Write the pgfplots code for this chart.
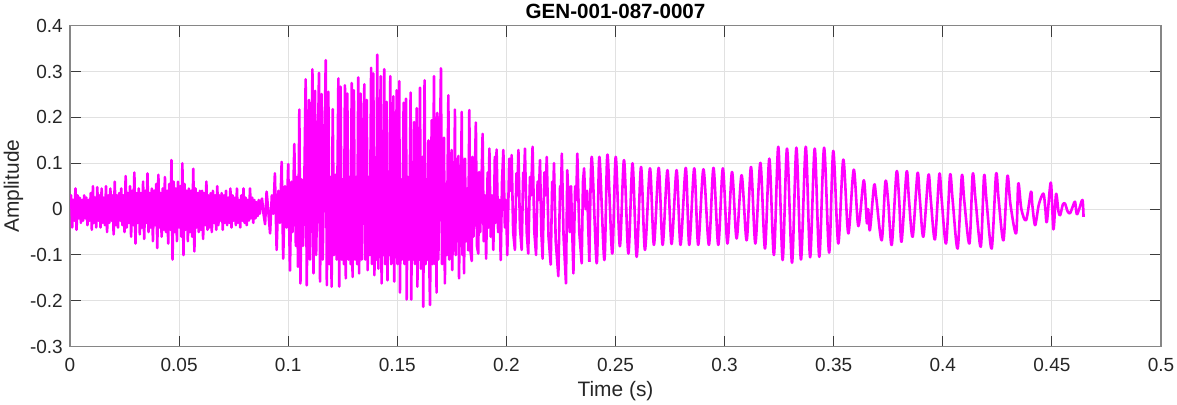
\documentclass[border=0pt]{standalone}
\usepackage{pgfplots}
\pgfplotsset{compat=1.18}
\usepackage{fontspec}
\setmainfont{Liberation Sans}
\definecolor{wave}{RGB}{255,0,255}
\definecolor{axgray}{RGB}{134,134,134}
\definecolor{tkgray}{RGB}{60,60,60}
\definecolor{txtgray}{RGB}{38,38,38}
\definecolor{grd}{RGB}{225,225,225}
\begin{document}
\begin{tikzpicture}
\begin{axis}[
  scale only axis, width=1091pt, height=321pt,
  xmin=0, xmax=0.5, ymin=-0.3, ymax=0.4,
  xtick={0,0.05,0.1,0.15,0.2,0.25,0.3,0.35,0.4,0.45,0.5},
  xticklabels={0,0.05,0.1,0.15,0.2,0.25,0.3,0.35,0.4,0.45,0.5},
  ytick={-0.3,-0.2,-0.1,0,0.1,0.2,0.3,0.4},
  yticklabels={-0.3,-0.2,-0.1,0,0.1,0.2,0.3,0.4},
  tick align=inside, tick pos=both,
  major tick length=10.9pt,
  major tick style={color=tkgray, line width=1pt},
  axis line style={color=axgray, line width=1.2pt},
  grid=major, grid style={color=grd, line width=1pt},
  xticklabel style={font=\fontsize{19}{19}\selectfont, color=txtgray, inner sep=0pt, anchor=north},
  yticklabel style={font=\fontsize{19}{19}\selectfont, color=txtgray, inner sep=0pt, anchor=east},
  xticklabel shift=11pt, yticklabel shift=7pt,
  xlabel={Time (s)}, ylabel={Amplitude},
  xlabel style={font=\fontsize{20.9}{21}\selectfont, color=txtgray, inner sep=0pt, anchor=base, at={(axis description cs:0.5,-0.155)}},
  ylabel style={font=\fontsize{20.9}{21}\selectfont, color=txtgray, inner sep=0pt, anchor=south, at={(axis description cs:-0.04262,0.5)}},
  title={GEN-001-087-0007},
  title style={font=\fontsize{20.6}{21}\selectfont\bfseries, color=black, inner sep=0pt, anchor=base, at={(axis description cs:0.5,1.005)}},
]
\addplot[wave, line width=2.6pt, line join=round] table {
0.0000 0.000
0.0005 0.030
0.0010 -0.040
0.0015 0.020
0.0020 -0.025
0.0025 0.045
0.0030 -0.045
0.0035 0.030
0.0040 -0.020
0.0045 0.025
0.0050 -0.030
0.0055 0.020
0.0060 -0.025
0.0065 0.030
0.0070 -0.020
0.0075 0.025
0.0080 -0.035
0.0085 0.020
0.0090 -0.025
0.0095 0.035
0.0100 -0.045
0.0105 0.050
0.0110 -0.030
0.0115 0.025
0.0120 -0.040
0.0125 0.048
0.0130 -0.025
0.0135 0.030
0.0140 -0.040
0.0145 0.045
0.0150 -0.030
0.0155 0.025
0.0160 -0.035
0.0165 0.050
0.0170 -0.050
0.0175 0.030
0.0180 -0.030
0.0185 0.045
0.0190 -0.025
0.0195 0.030
0.0200 -0.055
0.0205 0.060
0.0210 -0.035
0.0215 0.030
0.0220 -0.040
0.0225 0.035
0.0230 -0.025
0.0235 0.045
0.0240 -0.035
0.0245 0.030
0.0250 -0.050
0.0255 0.072
0.0260 -0.040
0.0265 0.035
0.0270 -0.030
0.0275 0.050
0.0280 -0.060
0.0285 0.040
0.0290 -0.035
0.0295 0.080
0.0300 -0.075
0.0305 0.035
0.0310 -0.030
0.0315 0.045
0.0320 -0.055
0.0325 0.035
0.0330 -0.040
0.0335 0.060
0.0340 -0.065
0.0345 0.040
0.0350 -0.030
0.0355 0.078
0.0360 -0.050
0.0365 0.035
0.0370 -0.040
0.0375 0.045
0.0380 -0.070
0.0385 0.040
0.0390 -0.035
0.0395 0.055
0.0400 -0.085
0.0405 0.075
0.0410 -0.040
0.0415 0.035
0.0420 -0.060
0.0425 0.045
0.0430 -0.045
0.0435 0.070
0.0440 -0.050
0.0445 0.040
0.0450 -0.075
0.0455 0.055
0.0460 -0.045
0.0465 0.107
0.0470 -0.110
0.0475 0.060
0.0480 -0.050
0.0485 0.045
0.0490 -0.070
0.0495 0.060
0.0500 -0.040
0.0505 0.050
0.0510 -0.060
0.0515 0.100
0.0520 -0.100
0.0525 0.055
0.0530 -0.045
0.0535 0.040
0.0540 -0.070
0.0545 0.045
0.0550 -0.050
0.0555 0.040
0.0560 -0.060
0.0565 0.088
0.0570 -0.092
0.0575 0.045
0.0580 -0.040
0.0585 0.035
0.0590 -0.050
0.0595 0.040
0.0600 -0.045
0.0605 0.040
0.0610 -0.065
0.0615 0.035
0.0620 -0.035
0.0625 0.060
0.0630 -0.045
0.0635 0.030
0.0640 -0.040
0.0645 0.035
0.0650 -0.050
0.0655 0.040
0.0660 -0.030
0.0665 0.030
0.0670 -0.045
0.0675 0.050
0.0680 -0.035
0.0685 0.030
0.0690 -0.025
0.0695 0.035
0.0700 -0.045
0.0705 0.030
0.0710 -0.030
0.0715 0.040
0.0720 -0.035
0.0725 0.025
0.0730 -0.030
0.0735 0.045
0.0740 -0.040
0.0745 0.030
0.0750 -0.025
0.0755 0.025
0.0760 -0.035
0.0765 0.045
0.0770 -0.030
0.0775 0.020
0.0780 -0.040
0.0785 0.030
0.0790 -0.025
0.0795 0.045
0.0800 -0.030
0.0805 0.025
0.0810 -0.035
0.0815 0.020
0.0820 -0.025
0.0825 0.045
0.0830 -0.020
0.0835 0.025
0.0840 -0.030
0.0845 0.020
0.0850 -0.020
0.0855 0.015
0.0860 -0.015
0.0865 0.020
0.0870 -0.010
0.0875 0.015
0.0880 0.023
0.0887 -0.010
0.0894 -0.033
0.0901 0.038
0.0908 0.000
0.0917 -0.053
0.0925 0.030
0.0932 -0.010
0.0939 0.078
0.0947 -0.089
0.0955 0.040
0.0962 -0.030
0.0970 0.103
0.0977 -0.108
0.0985 0.050
0.0992 -0.040
0.1000 0.098
0.1008 -0.134
0.1015 0.060
0.1020 -0.050
0.1028 0.142
0.1035 -0.080
0.1040 0.070
0.1045 -0.126
0.1051 0.217
0.1056 -0.162
0.1062 0.065
0.1068 -0.080
0.1074 0.060
0.1080 0.283
0.1085 -0.166
0.1090 0.070
0.1095 0.238
0.1100 -0.110
0.1105 0.060
0.1111 0.305
0.1116 -0.140
0.1120 0.070
0.1123 0.258
0.1128 -0.100
0.1134 0.060
0.1141 0.297
0.1146 -0.158
0.1150 0.070
0.1153 0.251
0.1158 -0.110
0.1164 0.065
0.1172 0.325
0.1177 -0.166
0.1181 0.070
0.1184 0.256
0.1189 -0.120
0.1194 0.070
0.1199 -0.169
0.1204 0.218
0.1210 -0.100
0.1216 0.075
0.1222 -0.110
0.1230 0.285
0.1234 -0.169
0.1237 0.070
0.1240 0.267
0.1245 -0.110
0.1250 0.065
0.1255 -0.120
0.1260 0.270
0.1264 -0.151
0.1267 0.070
0.1271 0.252
0.1276 -0.110
0.1281 0.070
0.1286 -0.120
0.1291 0.275
0.1295 -0.148
0.1298 0.070
0.1301 0.259
0.1306 -0.110
0.1311 0.070
0.1316 -0.120
0.1321 0.287
0.1325 -0.140
0.1328 0.070
0.1332 0.252
0.1337 -0.110
0.1342 0.070
0.1349 0.272
0.1353 -0.110
0.1356 0.060
0.1360 0.238
0.1364 -0.133
0.1369 0.070
0.1374 -0.100
0.1380 0.308
0.1384 -0.120
0.1387 0.070
0.1390 0.296
0.1395 -0.144
0.1400 0.070
0.1404 -0.110
0.1408 0.337
0.1413 -0.130
0.1418 0.070
0.1424 0.290
0.1428 -0.162
0.1433 0.070
0.1436 -0.100
0.1440 0.305
0.1444 -0.120
0.1448 0.065
0.1451 0.234
0.1455 -0.155
0.1460 0.070
0.1464 -0.100
0.1468 0.290
0.1472 -0.120
0.1477 0.070
0.1482 0.246
0.1486 -0.158
0.1490 0.065
0.1493 -0.100
0.1497 0.259
0.1501 -0.120
0.1505 0.070
0.1509 0.279
0.1512 -0.182
0.1517 0.065
0.1522 -0.110
0.1529 0.232
0.1533 -0.120
0.1536 0.065
0.1540 0.241
0.1543 -0.197
0.1548 0.070
0.1554 -0.110
0.1561 0.254
0.1564 -0.197
0.1568 0.060
0.1572 -0.110
0.1577 0.190
0.1581 -0.120
0.1585 0.065
0.1589 0.220
0.1592 -0.169
0.1597 0.065
0.1600 -0.110
0.1604 0.265
0.1608 -0.130
0.1612 0.060
0.1616 0.114
0.1619 -0.213
0.1622 0.060
0.1625 0.281
0.1630 -0.120
0.1634 0.065
0.1638 -0.110
0.1643 0.150
0.1647 -0.130
0.1650 -0.209
0.1654 0.060
0.1658 0.194
0.1662 -0.120
0.1665 0.060
0.1668 0.290
0.1673 -0.120
0.1677 0.060
0.1680 -0.182
0.1683 0.210
0.1688 -0.110
0.1693 0.060
0.1700 0.307
0.1705 -0.120
0.1709 0.055
0.1714 0.156
0.1718 -0.162
0.1722 0.055
0.1727 -0.100
0.1734 0.248
0.1738 -0.110
0.1742 0.050
0.1749 0.129
0.1752 -0.133
0.1756 0.050
0.1760 -0.090
0.1764 0.217
0.1768 -0.100
0.1772 0.045
0.1780 0.116
0.1783 -0.151
0.1787 0.050
0.1791 -0.080
0.1795 0.212
0.1799 -0.100
0.1803 0.045
0.1806 -0.140
0.1810 0.110
0.1815 -0.070
0.1820 0.045
0.1825 -0.090
0.1830 0.216
0.1835 -0.090
0.1841 -0.113
0.1844 0.114
0.1849 -0.060
0.1854 0.040
0.1860 0.189
0.1865 -0.080
0.1871 -0.097
0.1875 0.081
0.1880 -0.050
0.1885 0.040
0.1891 0.164
0.1896 -0.070
0.1902 0.030
0.1907 -0.108
0.1914 0.080
0.1918 -0.040
0.1922 0.132
0.1928 -0.060
0.1934 0.030
0.1940 -0.089
0.1947 0.114
0.1950 -0.030
0.1955 0.130
0.1962 -0.050
0.1968 0.020
0.1974 -0.111
0.1980 0.060
0.1986 0.129
0.1993 -0.040
0.1998 0.020
0.2004 -0.100
0.2013 0.110
0.2018 0.040
0.2024 0.118
0.2031 -0.050
0.2039 -0.089
0.2046 0.078
0.2050 0.030
0.2055 0.129
0.2062 -0.040
0.2070 -0.089
0.2077 0.080
0.2080 0.040
0.2085 0.132
0.2093 -0.050
0.2100 -0.097
0.2108 0.070
0.2113 0.030
0.2120 0.136
0.2128 -0.050
0.2136 -0.100
0.2143 0.060
0.2148 0.020
0.2154 0.107
0.2160 -0.050
0.2166 -0.108
0.2174 0.080
0.2179 0.030
0.2185 0.114
0.2193 -0.060
0.2203 -0.121
0.2210 0.060
0.2214 0.020
0.2218 0.100
0.2226 -0.070
0.2238 -0.146
0.2246 0.050
0.2250 0.030
0.2254 0.121
0.2262 -0.060
0.2273 -0.162
0.2279 0.085
0.2284 0.030
0.2290 -0.050
0.2296 0.050
0.2307 -0.140
0.2315 0.050
0.2320 0.020
0.2325 0.121
0.2334 -0.050
0.2345 -0.118
0.2351 0.060
0.2356 0.089
0.2363 0.000
0.2370 0.040
0.2380 -0.115
};
\addplot[wave, line width=2.6pt, line join=round, smooth] table {
0.2380 -0.115
0.2391 0.114
0.2414 -0.118
0.2426 0.114
0.2449 -0.111
0.2463 0.119
0.2485 -0.097
0.2501 0.114
0.2520 -0.081
0.2539 0.107
0.2559 -0.097
0.2578 0.100
0.2597 -0.104
0.2617 0.092
0.2635 -0.089
0.2658 0.089
0.2676 -0.078
0.2698 0.090
0.2716 -0.078
0.2738 0.085
0.2757 -0.076
0.2780 0.085
0.2798 -0.078
0.2822 0.090
0.2838 -0.078
0.2861 0.089
0.2879 -0.078
0.2903 0.087
0.2928 -0.078
0.2949 0.090
0.2971 -0.078
0.2992 0.089
0.3013 -0.075
0.3034 0.081
0.3055 -0.064
0.3078 0.074
0.3101 -0.068
0.3121 0.092
0.3141 -0.075
0.3164 0.101
0.3185 -0.086
0.3205 0.110
0.3226 -0.100
0.3246 0.136
0.3266 -0.111
0.3286 0.132
0.3309 -0.117
0.3329 0.134
0.3350 -0.110
0.3372 0.136
0.3392 -0.105
0.3413 0.132
0.3434 -0.104
0.3456 0.134
0.3479 -0.095
0.3498 0.127
0.3521 -0.075
0.3544 0.108
0.3567 -0.053
0.3592 0.086
0.3613 -0.037
0.3638 0.063
0.3652 -0.030
0.3658 0.000
0.3666 -0.046
0.3685 0.052
0.3695 0.025
0.3720 -0.068
0.3737 0.060
0.3750 0.015
0.3766 -0.078
0.3788 0.081
0.3800 0.020
0.3811 -0.071
0.3834 0.081
0.3845 0.020
0.3862 -0.060
0.3884 0.078
0.3895 0.020
0.3911 -0.060
0.3934 0.074
0.3945 0.020
0.3964 -0.066
0.3984 0.076
0.3995 0.020
0.4015 -0.075
0.4033 0.074
0.4045 0.020
0.4068 -0.086
0.4087 0.072
0.4098 0.020
0.4122 -0.075
0.4137 0.076
0.4150 0.020
0.4174 -0.082
0.4189 0.072
0.4200 0.020
0.4224 -0.086
0.4244 0.076
0.4256 0.020
0.4278 -0.068
0.4296 0.072
0.4310 0.010
0.4336 -0.053
0.4346 0.056
0.4360 0.000
0.4382 -0.024
0.4404 0.038
0.4410 0.010
0.4423 -0.035
0.4440 0.010
0.4461 0.034
0.4470 0.000
0.4477 -0.028
0.4495 0.058
0.4507 -0.044
0.4519 0.033
0.4530 -0.005
0.4538 -0.013
0.4550 0.010
0.4560 0.012
0.4572 -0.005
0.4583 -0.009
0.4595 0.005
0.4606 0.016
0.4614 -0.011
0.4625 0.000
0.4640 0.020
0.4645 -0.017
};
\end{axis}
\pgfresetboundingbox
\path ([shift={(-70pt,-57.3pt)}]current axis.south west) rectangle ([shift={(16pt,25.7pt)}]current axis.north east);
\end{tikzpicture}
\end{document}
